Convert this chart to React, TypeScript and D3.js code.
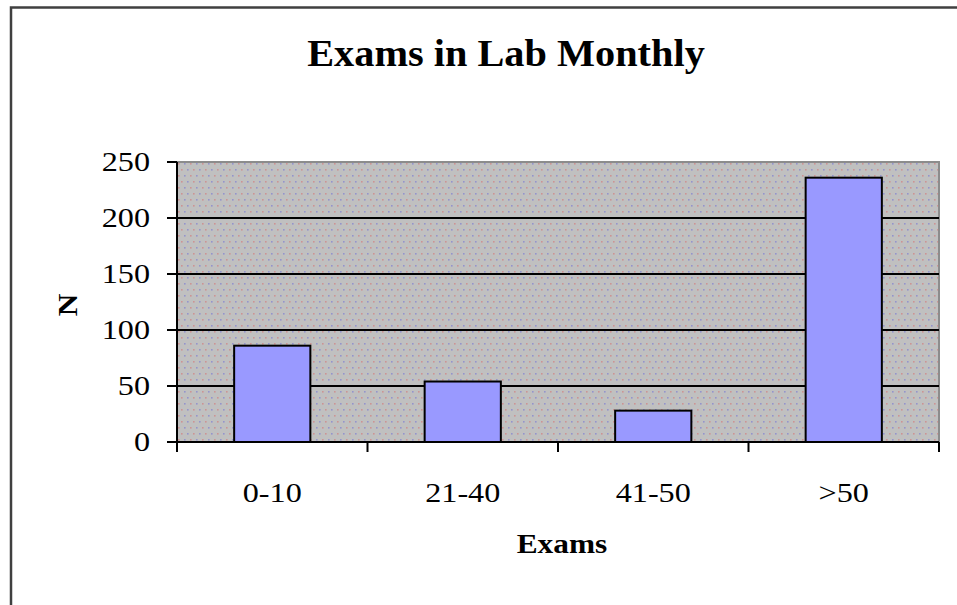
import React from "react";
import * as d3 from "d3";

const categories = ["0-10", "21-40", "41-50", ">50"];
const values = [86, 54, 28, 236];
const yTicks = [0, 50, 100, 150, 200, 250];
const title = "Exams in Lab Monthly";
const xTitle = "Exams";
const yTitle = "N";

const W = 957;
const H = 605;
const plot = { left: 177, right: 939, top: 162, bottom: 442 };
const FONT = "'Liberation Serif', 'Times New Roman', serif";

export default function App() {
  const x = d3
    .scaleBand<string>()
    .domain(categories)
    .range([plot.left, plot.right])
    .paddingInner(0.6)
    .paddingOuter(0.3);
  const y = d3.scaleLinear().domain([0, 250]).range([plot.bottom, plot.top]);
  const step = (plot.right - plot.left) / categories.length;
  const tickXs = d3.range(categories.length + 1).map((i) => plot.left + i * step);

  const tickSx = 1.15;
  const tickFs = 28;

  return (
    <svg
      width={W}
      height={H}
      style={{ position: "absolute", left: 0, top: 0, background: "#fff" }}
    >
      <defs>
        <pattern id="dots" width="12" height="12" patternUnits="userSpaceOnUse">
          <rect width="12" height="12" fill="#c0c0c0" />
          <rect x="1" y="1" width="1.6" height="1.6" fill="#cc9494" />
          <rect x="7" y="1" width="1.6" height="1.6" fill="#9494cc" />
          <rect x="4" y="7" width="1.6" height="1.6" fill="#9494cc" />
          <rect x="10" y="7" width="1.6" height="1.6" fill="#cc9494" />
        </pattern>
      </defs>
      {/* chart border */}
      <rect x={11} y={7.5} width={1200} height={900} fill="#fff" stroke="#404040" strokeWidth={2.5} />
      {/* title */}
      <text
        transform={`translate(506,66) scale(1.09,1)`}
        textAnchor="middle"
        fontFamily={FONT}
        fontWeight="bold"
        fontSize={37}
        fill="#000"
      >
        {title}
      </text>
      {/* plot area */}
      <rect
        x={plot.left}
        y={plot.top}
        width={plot.right - plot.left}
        height={plot.bottom - plot.top}
        fill="url(#dots)"
        stroke="#8c8c8c"
        strokeWidth={2}
      />
      {/* gridlines */}
      {yTicks
        .filter((t) => t > 0 && t < 250)
        .map((t) => (
          <line key={t} x1={plot.left} x2={plot.right} y1={y(t)} y2={y(t)} stroke="#000" strokeWidth={2} />
        ))}
      {/* bars */}
      {categories.map((c, i) => (
        <rect
          key={c}
          x={x(c)}
          y={y(values[i])}
          width={x.bandwidth()}
          height={y(0) - y(values[i])}
          fill="#9999ff"
          stroke="#000"
          strokeWidth={2}
        />
      ))}
      {/* axes */}
      <line x1={plot.left} x2={plot.left} y1={plot.top} y2={plot.bottom} stroke="#000" strokeWidth={2} />
      <line x1={plot.left} x2={plot.right} y1={plot.bottom} y2={plot.bottom} stroke="#000" strokeWidth={2} />
      {yTicks.map((t) => (
        <g key={t}>
          <line x1={plot.left - 10} x2={plot.left} y1={y(t)} y2={y(t)} stroke="#000" strokeWidth={2} />
          <text
            transform={`translate(150,${y(t) + 9}) scale(${tickSx},1)`}
            textAnchor="end"
            fontFamily={FONT}
            fontSize={tickFs}
            fill="#000"
          >
            {t}
          </text>
        </g>
      ))}
      {tickXs.map((tx, i) => (
        <line key={i} x1={tx} x2={tx} y1={plot.bottom} y2={plot.bottom + 10} stroke="#000" strokeWidth={2} />
      ))}
      {categories.map((c) => (
        <text
          key={c}
          transform={`translate(${x(c)! + x.bandwidth() / 2},502) scale(${tickSx},1)`}
          textAnchor="middle"
          fontFamily={FONT}
          fontSize={tickFs}
          fill="#000"
        >
          {c}
        </text>
      ))}
      {/* axis titles */}
      <text
        transform={`translate(562,553) scale(1.12,1)`}
        textAnchor="middle"
        fontFamily={FONT}
        fontWeight="bold"
        fontSize={28}
        fill="#000"
      >
        {xTitle}
      </text>
      <text
        transform={`translate(77,305) rotate(-90) scale(1.12,1)`}
        textAnchor="middle"
        fontFamily={FONT}
        fontWeight="bold"
        fontSize={28}
        fill="#000"
      >
        {yTitle}
      </text>
    </svg>
  );
}
